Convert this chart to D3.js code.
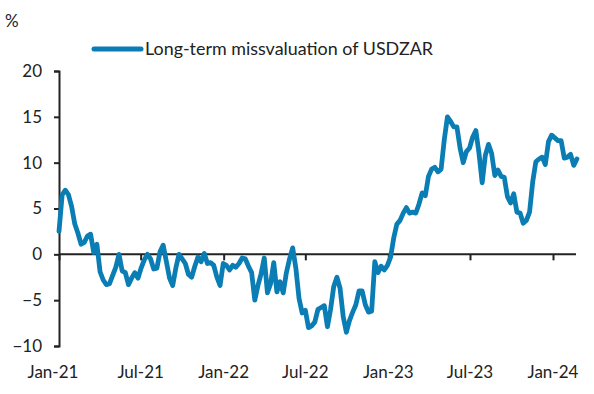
<!DOCTYPE html>
<html lang="en">
<head>
<meta charset="UTF-8">
<title>USDZAR missvaluation</title>
<script src="https://d3js.org/d3.v7.min.js"></script>
<style>
  body { margin: 0; background: #fff; }
  text { font-family: "Source Sans Pro", Lato, "Noto Sans", sans-serif; fill: #222; }
</style>
</head>
<body>
<script>
// weekly readings, first one in the first week of Jan 2021
const startDate = new Date(2021, 0, 1);
const seriesName = "Long-term missvaluation of USDZAR";
const values = [
  2.5, 6.5, 7.0, 6.5, 5.2, 3.3, 2.3, 1.1, 1.3, 2.0,
  2.2, 0.2, 1.1, -1.9, -2.8, -3.3, -3.2, -2.3, -1.4, 0.0,
  -1.8, -2.0, -3.3, -2.6, -2.0, -2.6, -1.5, -0.6, 0.0, -0.5,
  -1.6, -1.5, 0.3, 1.0, -0.8, -2.6, -3.4, -1.5, 0.0, -0.5,
  -1.0, -2.2, -2.5, -1.3, -0.3, -0.8, 0.1, -1.0, -0.9, -1.2,
  -2.5, -3.4, -1.0, -1.2, -1.7, -1.2, -1.4, -1.0, -0.4, -0.5,
  -1.3, -2.0, -5.0, -3.4, -2.1, -0.4, -4.2, -3.2, -0.9, -4.1,
  -3.0, -4.2, -2.0, -0.5, 0.7, -1.5, -4.8, -6.4, -6.1, -8.0,
  -7.8, -7.4, -6.0, -5.8, -5.6, -7.9, -6.0, -3.5, -2.5, -3.7,
  -6.8, -8.5, -7.2, -6.3, -5.5, -4.0, -4.0, -5.5, -6.3, -6.2,
  -0.8, -2.0, -1.3, -1.7, -1.2, -0.3, 1.8, 3.3, 3.7, 4.5,
  5.1, 4.5, 4.6, 4.5, 5.5, 6.7, 6.4, 8.5, 9.3, 9.5,
  9.0, 9.3, 12.5, 15.0, 14.5, 13.9, 13.9, 11.6, 10.0, 11.2,
  11.6, 12.8, 13.5, 11.0, 7.8, 10.8, 12.0, 11.0, 8.6, 9.2,
  8.5, 8.4, 6.3, 5.6, 6.6, 4.6, 4.5, 3.4, 3.7, 4.6,
  7.9, 10.1, 10.4, 10.6, 9.8, 12.3, 13.0, 12.7, 12.4, 12.4,
  10.5, 10.6, 10.9, 9.7, 10.4
];
const yTicks = [-10, -5, 0, 5, 10, 15, 20];
const xTickDates = [
  new Date(2021, 0, 1), new Date(2021, 6, 1), new Date(2022, 0, 1),
  new Date(2022, 6, 1), new Date(2023, 0, 1), new Date(2023, 6, 1),
  new Date(2024, 0, 1)
];

const data = values.map((v, i) => ({ date: d3.timeDay.offset(startDate, i * 7), value: v }));

const width = 594, height = 394;
const svg = d3.select("body").append("svg")
    .attr("width", width)
    .attr("height", height);

const x = d3.scaleTime()
    .domain([new Date(2021, 0, 1), new Date(2024, 0, 1)])
    .range([59, 553]);

const y = d3.scaleLinear()
    .domain([-10, 20])
    .range([346, 71]);

// y axis
const yAxis = svg.append("g")
    .attr("transform", "translate(59,0)")
    .call(d3.axisLeft(y).tickValues(yTicks).tickSize(5).tickPadding(12));
yAxis.select(".domain").attr("stroke", "#222").attr("stroke-width", 2);
yAxis.selectAll(".tick line").attr("stroke", "#222").attr("stroke-width", 2);
yAxis.selectAll("text").attr("font-size", 17).attr("fill", "#222");

// x axis on the zero line
const xAxis = svg.append("g")
    .attr("transform", `translate(0,${y(0)})`)
    .call(d3.axisBottom(x).tickValues(xTickDates).tickSize(6).tickFormat(() => ""));
xAxis.select(".domain").attr("d", `M59,0H576`).attr("stroke", "#222").attr("stroke-width", 2);
xAxis.selectAll(".tick line").attr("stroke", "#222").attr("stroke-width", 2);

// x labels below the plot
svg.append("g").selectAll("text")
    .data(xTickDates)
    .enter().append("text")
    .attr("x", (d, i) => i === 0 ? x(d) - 6 : x(d))
    .attr("y", 378)
    .attr("text-anchor", "middle")
    .attr("font-size", 17)
    .text(d => d3.timeFormat("%b-%y")(d));

// unit label
svg.append("text")
    .attr("x", 5)
    .attr("y", 27)
    .attr("font-size", 17)
    .text("%");

// series line
const line = d3.line()
    .x(d => x(d.date))
    .y(d => y(d.value));

svg.append("path")
    .datum(data)
    .attr("fill", "none")
    .attr("stroke", "#0b7db5")
    .attr("stroke-width", 4.8)
    .attr("stroke-linejoin", "round")
    .attr("stroke-linecap", "round")
    .attr("d", line);

// legend
svg.append("line")
    .attr("x1", 94).attr("x2", 141)
    .attr("y1", 49).attr("y2", 49)
    .attr("stroke", "#0b7db5")
    .attr("stroke-width", 5)
    .attr("stroke-linecap", "round");

svg.append("text")
    .attr("x", 145)
    .attr("y", 55)
    .attr("font-size", 17.5)
    .attr("textLength", 288)
    .attr("lengthAdjust", "spacingAndGlyphs")
    .text(seriesName);
</script>
</body>
</html>
